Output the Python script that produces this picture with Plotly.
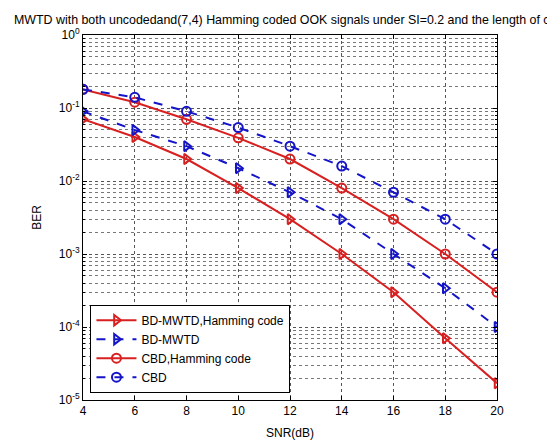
import plotly.graph_objects as go

snr = [4, 6, 8, 10, 12, 14, 16, 18, 20]
bd_mwtd_hamming = [0.07, 0.04, 0.02, 0.008, 0.003, 0.001, 0.0003, 0.00007, 0.000017]
bd_mwtd = [0.09, 0.05, 0.03, 0.015, 0.007, 0.003, 0.001, 0.00034, 0.0001]
cbd_hamming = [0.18, 0.12, 0.07, 0.039, 0.02, 0.008, 0.003, 0.001, 0.0003]
cbd = [0.18, 0.14, 0.09, 0.054, 0.03, 0.016, 0.007, 0.003, 0.001]

series_names = ["BD-MWTD,Hamming code", "BD-MWTD", "CBD,Hamming code", "CBD"]
x_ticks = [4, 6, 8, 10, 12, 14, 16, 18, 20]
y_exps = [0, -1, -2, -3, -4, -5]

RED = "#d82020"
BLUE = "#1414c8"

fig = go.Figure()
styles = [
    (bd_mwtd_hamming, RED, "solid", "triangle-right-open"),
    (bd_mwtd, BLUE, "dash", "triangle-right-open"),
    (cbd_hamming, RED, "solid", "circle-open"),
    (cbd, BLUE, "dash", "circle-open"),
]
for name, (vals, col, dash, sym) in zip(series_names, styles):
    fig.add_trace(go.Scatter(
        x=snr, y=vals, name=name, mode="lines+markers",
        line=dict(color=col, width=2, dash=dash),
        marker=dict(symbol=sym, size=9, color=col, line=dict(color=col, width=2)),
    ))

minor_vals = [m * 10 ** e for e in range(-5, 0) for m in range(2, 10)]

# page body has an 8px default margin, so the figure is sized to fit the window
fig.update_layout(
    width=547, height=432,
    paper_bgcolor="white", plot_bgcolor="white",
    margin=dict(l=75, r=58, t=27, b=40, autoexpand=False),
    font=dict(family="Liberation Sans, Arial, sans-serif", size=12, color="black"),
    title=dict(
        text="MWTD with both uncodedand(7,4) Hamming coded OOK signals under SI=0.2 and the length of c",
        x=0.011, xanchor="left", xref="container", y=0.972, yanchor="middle",
        font=dict(size=12.4, color="black"), automargin=False,
    ),
    showlegend=True,
    legend=dict(
        x=0.018, y=0.02, xanchor="left", yanchor="bottom",
        bgcolor="white", bordercolor="black", borderwidth=1,
        font=dict(size=12), tracegroupgap=0, itemwidth=40,
    ),
)
fig.update_xaxes(
    range=[4, 20], tickvals=x_ticks, ticktext=[str(v) for v in x_ticks],
    showline=True, linecolor="black", linewidth=1, mirror="ticks",
    ticks="inside", ticklen=4, tickcolor="black",
    showgrid=True, gridcolor="#555555", griddash="dot", gridwidth=1,
    zeroline=False, automargin=False,
    title=dict(text="SNR(dB)", standoff=12, font=dict(size=12)),
)
fig.update_yaxes(
    type="log", range=[-5, 0],
    tickvals=[10 ** e for e in y_exps],
    ticktext=["10<sup>%d</sup>" % e for e in y_exps],
    showline=True, linecolor="black", linewidth=1, mirror="ticks",
    ticks="inside", ticklen=4, tickcolor="black",
    showgrid=True, gridcolor="#555555", griddash="dot", gridwidth=1,
    minor=dict(tickvals=minor_vals, ticks="inside", ticklen=2, tickcolor="black",
               showgrid=True, gridcolor="#777777", griddash="dot", gridwidth=1),
    zeroline=False, automargin=False,
    title=dict(text="BER", standoff=14, font=dict(size=12)),
)

fig.write_html("out.html")
